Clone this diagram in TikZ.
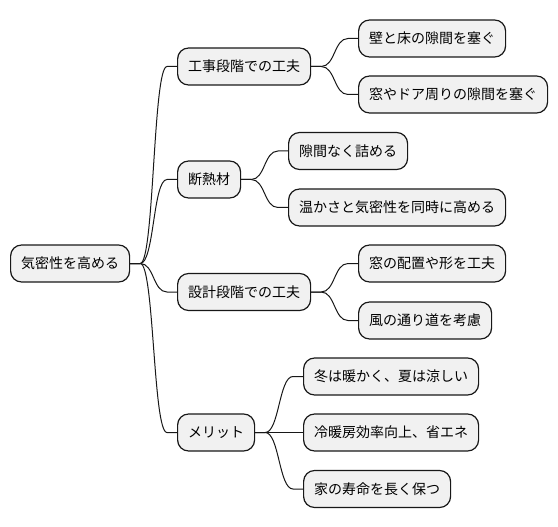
\documentclass[tikz,border=0pt]{standalone}
\usepackage{fontspec}
\newfontfamily\jp{Noto Sans CJK JP}
\usetikzlibrary{calc}
\definecolor{boxfill}{HTML}{F1F1F1}
\definecolor{boxline}{HTML}{181818}
\tikzset{
  mm/.style={draw=boxline, fill=boxfill, line width=1.2bp, rounded corners=11bp,
    minimum height=37bp, inner xsep=10.5bp, inner ysep=0pt, anchor=west,
    font=\jp\fontsize{14bp}{16bp}\selectfont, text=black},
  conn/.style={draw=boxline, line width=1bp}
}
\newcommand\mmedge[2]{\draw[conn] (#1.east) -- ($(#1.east)+(10,0)$) .. controls ($(#1.east)+(24,0)$) and ($(#2.west)+(-24,0)$) .. ($(#2.west)+(-10,0)$) -- (#2.west);}
\begin{document}
\begin{tikzpicture}[x=1bp,y=-1bp]
\useasboundingbox (0,0) rectangle (558,527);
\node[mm] (root) at (10,263.5) {気密性を高める};
\node[mm] (a) at (177,66.5) {工事段階での工夫};
\node[mm] (b) at (177,179.5) {断熱材};
\node[mm] (c) at (177,292) {設計段階での工夫};
\node[mm] (d) at (177,432.5) {メリット};
\node[mm] (a1) at (358,38.5) {壁と床の隙間を塞ぐ};
\node[mm] (a2) at (358,94.5) {窓やドア周りの隙間を塞ぐ};
\node[mm] (b1) at (288,151) {隙間なく詰める};
\node[mm] (b2) at (288,207.5) {温かさと気密性を同時に高める};
\node[mm] (c1) at (358,263.5) {窓の配置や形を工夫};
\node[mm] (c2) at (358,320.5) {風の通り道を考慮};
\node[mm] (d1) at (303,376.5) {冬は暖かく、夏は涼しい};
\node[mm] (d2) at (303,432.5) {冷暖房効率向上、省エネ};
\node[mm] (d3) at (303,489) {家の寿命を長く保つ};
\mmedge{root}{a}
\mmedge{root}{b}
\mmedge{root}{c}
\mmedge{root}{d}
\mmedge{a}{a1}
\mmedge{a}{a2}
\mmedge{b}{b1}
\mmedge{b}{b2}
\mmedge{c}{c1}
\mmedge{c}{c2}
\mmedge{d}{d1}
\mmedge{d}{d2}
\mmedge{d}{d3}
\end{tikzpicture}
\end{document}
